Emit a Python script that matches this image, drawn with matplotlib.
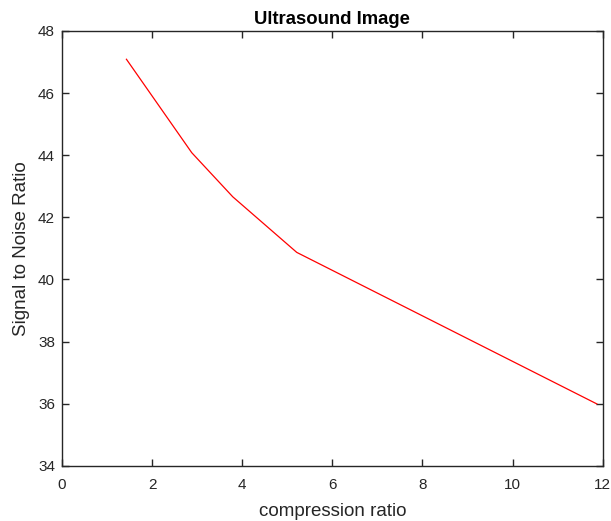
import matplotlib
matplotlib.use("Agg")
import matplotlib.pyplot as plt

compression_ratio = [1.43, 2.88, 3.79, 5.21, 11.87]
snr = [47.09, 44.08, 42.66, 40.87, 35.99]
x_ticks = [0, 2, 4, 6, 8, 10, 12]
y_ticks = [34, 36, 38, 40, 42, 44, 46, 48]

plt.rcParams['font.family'] = ['Liberation Sans', 'DejaVu Sans']
fig = plt.figure(figsize=(6.11, 5.21), dpi=100)
ax = fig.add_axes([62/611, 1-465.7/521, (602.7-62)/611, (465.7-31)/521])
ax.plot(compression_ratio, snr, color='red', linewidth=0.9)
ax.set_xlim(0, 12)
ax.set_ylim(34, 48)
ax.set_xticks(x_ticks)
ax.set_yticks(y_ticks)
gray = (0.15, 0.15, 0.15)
ax.tick_params(direction='in', top=True, right=True, length=5, width=1.0,
               colors=gray, labelsize=11)
ax.tick_params(axis='x', pad=9)
ax.tick_params(axis='y', pad=5)
for s in ax.spines.values():
    s.set_color(gray)
    s.set_linewidth(1.0)
ax.set_xlabel('compression ratio', fontsize=13.5, color=gray, labelpad=8)
ax.set_ylabel('Signal to Noise Ratio', fontsize=13.5, color=gray, labelpad=6)
ax.set_title('Ultrasound Image', fontsize=13.3, fontweight='bold', color='black', pad=5)
fig.savefig('out.png', dpi=100)
